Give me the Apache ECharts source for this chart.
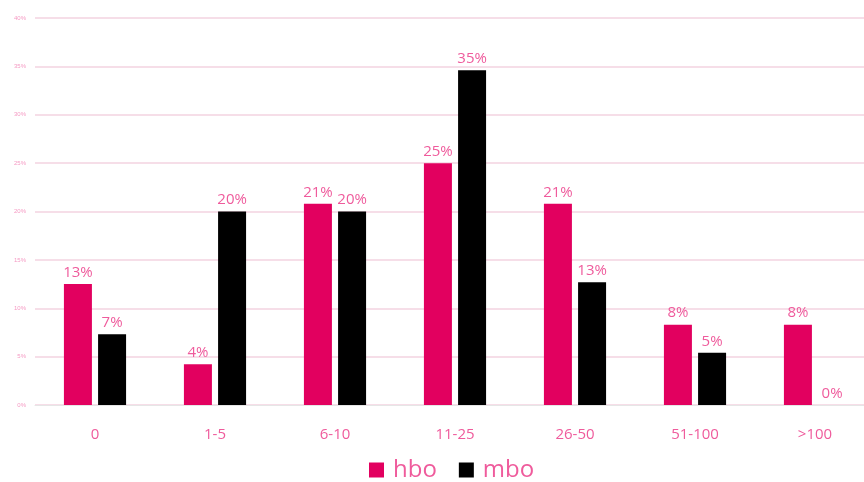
<!DOCTYPE html>
<html><head><meta charset="utf-8">
<script src="https://cdn.jsdelivr.net/npm/echarts@6/dist/echarts.min.js"></script>
<style>html,body{margin:0;padding:0;background:#fff}#c{width:864px;height:482px}</style>
</head><body><div id="c"></div>
<script>
const categories = ['0', '1-5', '6-10', '11-25', '26-50', '51-100', '>100'];
const hbo = [12.5, 4.2, 20.8, 25, 20.8, 8.3, 8.3];
const mbo = [7.3, 20, 20, 34.6, 12.7, 5.4, 0];
const yTicks = [0, 5, 10, 15, 20, 25, 30, 35, 40];

const chart = echarts.init(document.getElementById('c'));
const lbl = {
  show: true, position: 'top', distance: 4,
  color: '#ef5b9c', fontFamily: 'Open Sans', fontSize: 15,
  formatter: p => Math.round(p.value) + '%'
};
chart.setOption({
  animation: false,
  grid: { left: 35, top: 18, bottom: 77, right: -11, outerBoundsMode: 'none', containLabel: false },
  legend: {
    bottom: -5, left: 364, itemWidth: 15, itemHeight: 15, itemGap: 22,
    icon: 'rect',
    textStyle: { color: '#ef5b9c', fontSize: 24, fontFamily: 'Open Sans', padding: [0, 0, 0, 4] },
    data: ['hbo', 'mbo']
  },
  xAxis: {
    type: 'category', data: categories,
    axisLine: { show: true, lineStyle: { color: '#e6e6e6' } },
    axisTick: { show: false },
    axisLabel: { color: '#ef5b9c', fontSize: 15, fontFamily: 'Open Sans', margin: 22 }
  },
  yAxis: {
    type: 'value', min: yTicks[0], max: yTicks[yTicks.length - 1], interval: 5,
    axisLine: { show: false }, axisTick: { show: false },
    axisLabel: { color: '#f59ac3', fontSize: 6, margin: 9, formatter: v => v + '%' },
    splitLine: { lineStyle: { color: '#f3d3e0', width: 1.5 } }
  },
  series: [
    { name: 'hbo', type: 'bar', data: hbo, barWidth: 28, barGap: '22%',
      itemStyle: { color: '#e2005f' }, label: lbl },
    { name: 'mbo', type: 'bar', data: mbo, barWidth: 28,
      itemStyle: { color: '#000000' }, label: lbl }
  ]
});
</script></body></html>
